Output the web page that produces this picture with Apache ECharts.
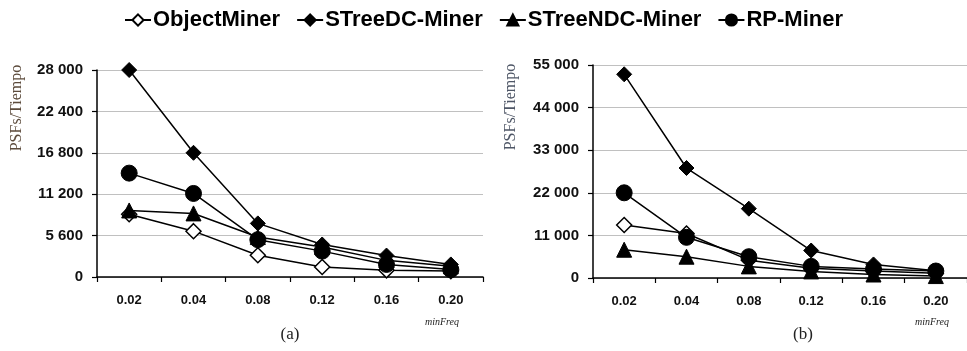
<!DOCTYPE html>
<html>
<head>
<meta charset="utf-8">
<script src="https://cdn.jsdelivr.net/npm/echarts@6/dist/echarts.min.js"></script>
<style>html,body{margin:0;padding:0;background:#fff}#c{width:967px;height:351px}</style>
</head>
<body>
<div id="c"></div>
<script>
const categories = ['0.02', '0.04', '0.08', '0.12', '0.16', '0.20'];
const seriesNames = ['ObjectMiner', 'STreeDC-Miner', 'STreeNDC-Miner', 'RP-Miner'];

// Chart (a)
const aObjectMiner = [8500, 6200, 2950, 1350, 900, 800];
const aSTreeDC = [28000, 16800, 7250, 4400, 2900, 1700];
const aSTreeNDC = [9000, 8600, 5400, 4050, 2250, 1450];
const aRPMiner = [14050, 11300, 5050, 3500, 1700, 1000];

// Chart (b)
const bObjectMiner = [13700, 11500, 4600, 2500, 1800, 1200];
const bSTreeDC = [52600, 28400, 17900, 7100, 3500, 1900];
const bSTreeNDC = [7300, 5500, 3000, 1700, 900, 500];
const bRPMiner = [22000, 10500, 5500, 3000, 2300, 1800];

const aTicks = {max: 28000, interval: 5600};
const bTicks = {max: 55000, interval: 11000};

const fmt = v => String(v).replace(/\B(?=(\d{3})+(?!\d))/g, ' ');

const styles = [
  {symbol: 'diamond', symbolSize: 15, itemStyle: {color: '#fff', borderColor: '#000', borderWidth: 1.5}},
  {symbol: 'diamond', symbolSize: 15, itemStyle: {color: '#000', borderColor: '#000', borderWidth: 1}},
  {symbol: 'triangle', symbolSize: 15, itemStyle: {color: '#000', borderColor: '#000', borderWidth: 1}},
  {symbol: 'circle', symbolSize: 16, itemStyle: {color: '#000', borderColor: '#000', borderWidth: 1}}
];

function mk(name, data, idx, styleIdx) {
  const s = styles[styleIdx];
  return {
    name: name, type: 'line', data: data,
    xAxisIndex: idx, yAxisIndex: idx,
    symbol: s.symbol, symbolSize: s.symbolSize,
    itemStyle: s.itemStyle,
    lineStyle: {color: '#000', width: 1.5},
    emphasis: {disabled: true},
    animation: false
  };
}

const catAxis = (idx) => ({
  type: 'category', gridIndex: idx, data: categories, boundaryGap: true,
  axisLine: {lineStyle: {color: '#000', width: 1.5}},
  axisTick: {show: true, length: 5, lineStyle: {color: '#000', width: 1.2}},
  axisLabel: {margin: 17, color: '#111', fontFamily: 'Liberation Sans', fontWeight: 'bold', fontSize: 13},
  splitLine: {show: false}
});

const valAxis = (idx, t) => ({
  type: 'value', gridIndex: idx, min: 0, max: t.max, interval: t.interval,
  axisLine: {show: true, lineStyle: {color: '#000', width: 1.5}},
  axisTick: {show: true, length: 5, lineStyle: {color: '#000', width: 1.2}},
  axisLabel: {margin: 14, color: '#111', fontFamily: 'Liberation Sans', fontWeight: 'bold', fontSize: 15, formatter: fmt},
  splitLine: {show: true, lineStyle: {color: '#c0c0c0', width: 1}}
});

const chart = echarts.init(document.getElementById('c'), null, {renderer: 'canvas'});
chart.setOption({
  animation: false,
  backgroundColor: '#fff',
  legend: {
    data: seriesNames, left: 'center', top: 4,
    itemWidth: 26, itemHeight: 14, itemGap: 16,
    textStyle: {fontFamily: 'Liberation Sans', fontWeight: 'bold', fontSize: 22, color: '#000', padding: [0, 0, 0, -3]},
    selectedMode: false
  },
  grid: [
    {left: 97, right: 484, top: 70, bottom: 74},
    {left: 593, right: -10, top: 65, bottom: 73}
  ],
  xAxis: [catAxis(0), catAxis(1)],
  yAxis: [valAxis(0, aTicks), valAxis(1, bTicks)],
  series: [
    mk(seriesNames[0], aObjectMiner, 0, 0),
    mk(seriesNames[1], aSTreeDC, 0, 1),
    mk(seriesNames[2], aSTreeNDC, 0, 2),
    mk(seriesNames[3], aRPMiner, 0, 3),
    mk(seriesNames[0], bObjectMiner, 1, 0),
    mk(seriesNames[1], bSTreeDC, 1, 1),
    mk(seriesNames[2], bSTreeNDC, 1, 2),
    mk(seriesNames[3], bRPMiner, 1, 3)
  ],
  graphic: [
    {type: 'text', x: 17, y: 108, rotation: Math.PI / 2,
     style: {text: 'PSFs/Tiempo', font: '16px "Liberation Serif"', fill: '#5c4b3c', align: 'center', verticalAlign: 'middle'}},
    {type: 'text', x: 511, y: 107, rotation: Math.PI / 2,
     style: {text: 'PSFs/Tiempo', font: '16px "Liberation Serif"', fill: '#4e5666', align: 'center', verticalAlign: 'middle'}},
    {type: 'text', x: 442, y: 322,
     style: {text: 'minFreq', font: 'italic 10px "Liberation Serif"', fill: '#222', align: 'center', verticalAlign: 'middle'}},
    {type: 'text', x: 932, y: 322,
     style: {text: 'minFreq', font: 'italic 10px "Liberation Serif"', fill: '#222', align: 'center', verticalAlign: 'middle'}},
    {type: 'text', x: 290, y: 335,
     style: {text: '(a)', font: '17px "Liberation Serif"', fill: '#222', align: 'center', verticalAlign: 'middle'}},
    {type: 'text', x: 803, y: 335,
     style: {text: '(b)', font: '17px "Liberation Serif"', fill: '#222', align: 'center', verticalAlign: 'middle'}}
  ]
});
</script>
</body>
</html>
